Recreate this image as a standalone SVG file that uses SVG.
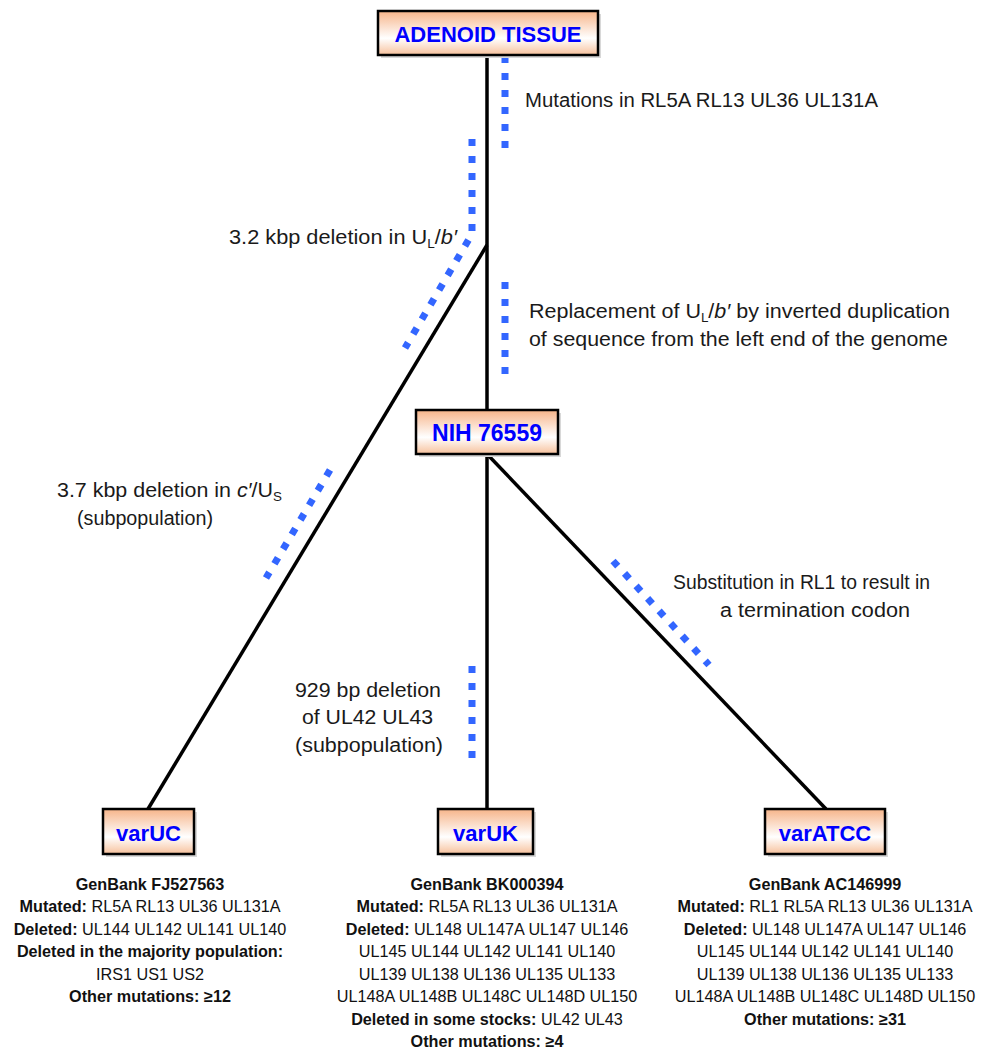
<svg xmlns="http://www.w3.org/2000/svg" width="991" height="1052" viewBox="0 0 991 1052">
<defs>
<linearGradient id="peach" x1="0" y1="0" x2="0" y2="1">
<stop offset="0" stop-color="#f6b489"/>
<stop offset="0.62" stop-color="#ffffff"/>
<stop offset="1" stop-color="#f7c19c"/>
</linearGradient>
<style>
.box{fill:url(#peach);stroke:#000;stroke-width:2.5}
.shadow{fill:#d8d8d8}
.title{font-family:"Liberation Sans",Arial,sans-serif;font-weight:bold;font-size:22px;fill:#0000ff;text-anchor:middle}
.edge{stroke:#000;stroke-width:3.5;fill:none}
.dots{stroke:#3366ff;stroke-width:7;stroke-dasharray:7 10;fill:none}
.lbl{font-family:"Liberation Sans",Arial,sans-serif;font-size:20px;fill:#1a1a1a}
.info{font-family:"Liberation Sans",Arial,sans-serif;font-size:16.2px;fill:#111;text-anchor:middle}
.b{font-weight:bold}
.sub{font-size:12.5px}
</style>
</defs>
<rect width="991" height="1052" fill="#ffffff"/>

<g id="connectors">
<line class="edge" x1="487" y1="55" x2="487" y2="410"/>
<line class="edge" x1="487" y1="245" x2="148" y2="809"/>
<line class="edge" x1="487" y1="454" x2="487" y2="809"/>
<line class="edge" x1="487" y1="454" x2="826" y2="809"/>
</g>

<g id="mutation-marks">
<line class="dots" x1="505" y1="56" x2="505" y2="148"/>
<path class="dots" d="M472,139 L472,234 L405,348"/>
<line class="dots" x1="505" y1="282" x2="505" y2="374"/>
<line class="dots" x1="330" y1="470" x2="266" y2="578"/>
<line class="dots" x1="613" y1="561" x2="709" y2="665"/>
<line class="dots" x1="472" y1="666" x2="472" y2="758"/>
</g>

<g id="labels">
<text class="lbl" x="525" y="107" textLength="353" lengthAdjust="spacingAndGlyphs">Mutations in RL5A RL13 UL36 UL131A</text>
<text class="lbl" x="229" y="244" textLength="228" lengthAdjust="spacingAndGlyphs">3.2 kbp deletion in U<tspan class="sub" dy="4">L</tspan><tspan dy="-4">/</tspan><tspan font-style="italic">b′</tspan></text>
<text class="lbl" x="529" y="318" textLength="421" lengthAdjust="spacingAndGlyphs">Replacement of U<tspan class="sub" dy="4">L</tspan><tspan dy="-4">/</tspan><tspan font-style="italic">b′</tspan> by inverted duplication</text>
<text class="lbl" x="529" y="346" textLength="419" lengthAdjust="spacingAndGlyphs">of sequence from the left end of the genome</text>
<text class="lbl" x="57" y="497" textLength="225" lengthAdjust="spacingAndGlyphs">3.7 kbp deletion in <tspan font-style="italic">c′</tspan>/U<tspan class="sub" dy="4">S</tspan></text>
<text class="lbl" x="77" y="525" textLength="136" lengthAdjust="spacingAndGlyphs">(subpopulation)</text>
<text class="lbl" x="673" y="589" textLength="257" lengthAdjust="spacingAndGlyphs">Substitution in RL1 to result in</text>
<text class="lbl" x="720" y="617" textLength="190" lengthAdjust="spacingAndGlyphs">a termination codon</text>
<text class="lbl" x="295" y="697" textLength="146" lengthAdjust="spacingAndGlyphs">929 bp deletion</text>
<text class="lbl" x="302" y="724" textLength="131" lengthAdjust="spacingAndGlyphs">of UL42 UL43</text>
<text class="lbl" x="295" y="752" textLength="148" lengthAdjust="spacingAndGlyphs">(subpopulation)</text>
</g>

<g id="node-adenoid">
<rect class="shadow" x="381" y="14" width="220" height="44"/>
<rect class="box" x="378" y="11" width="220" height="44"/>
<text class="title" x="488" y="42">ADENOID TISSUE</text>
</g>

<g id="node-nih">
<rect class="shadow" x="419" y="413" width="142" height="44"/>
<rect class="box" x="416" y="410" width="142" height="44"/>
<text class="title" x="487" y="441" style="font-size:23px">NIH 76559</text>
</g>

<g id="node-varUC">
<rect class="shadow" x="106" y="812" width="91" height="45"/>
<rect class="box" x="103" y="809" width="91" height="45"/>
<text class="title" x="148.5" y="841">varUC</text>
<text class="info" x="150" y="890"><tspan class="b">GenBank FJ527563</tspan></text>
<text class="info" x="150" y="912"><tspan class="b">Mutated:</tspan> RL5A RL13 UL36 UL131A</text>
<text class="info" x="150" y="935"><tspan class="b">Deleted:</tspan> UL144 UL142 UL141 UL140</text>
<text class="info" x="150" y="957"><tspan class="b">Deleted in the majority population:</tspan></text>
<text class="info" x="150" y="980">IRS1 US1 US2</text>
<text class="info" x="150" y="1002"><tspan class="b">Other mutations: ≥12</tspan></text>
</g>

<g id="node-varUK">
<rect class="shadow" x="441" y="812" width="95" height="45"/>
<rect class="box" x="438" y="809" width="95" height="45"/>
<text class="title" x="485.5" y="841">varUK</text>
<text class="info" x="487" y="890"><tspan class="b">GenBank BK000394</tspan></text>
<text class="info" x="487" y="912"><tspan class="b">Mutated:</tspan> RL5A RL13 UL36 UL131A</text>
<text class="info" x="487" y="935"><tspan class="b">Deleted:</tspan> UL148 UL147A UL147 UL146</text>
<text class="info" x="487" y="957">UL145 UL144 UL142 UL141 UL140</text>
<text class="info" x="487" y="980">UL139 UL138 UL136 UL135 UL133</text>
<text class="info" x="487" y="1002">UL148A UL148B UL148C UL148D UL150</text>
<text class="info" x="487" y="1025"><tspan class="b">Deleted in some stocks:</tspan> UL42 UL43</text>
<text class="info" x="487" y="1047"><tspan class="b">Other mutations: ≥4</tspan></text>
</g>

<g id="node-varATCC">
<rect class="shadow" x="768" y="812" width="120" height="45"/>
<rect class="box" x="765" y="809" width="120" height="45"/>
<text class="title" x="825" y="841">varATCC</text>
<text class="info" x="825" y="890"><tspan class="b">GenBank AC146999</tspan></text>
<text class="info" x="825" y="912"><tspan class="b">Mutated:</tspan> RL1 RL5A RL13 UL36 UL131A</text>
<text class="info" x="825" y="935"><tspan class="b">Deleted:</tspan> UL148 UL147A UL147 UL146</text>
<text class="info" x="825" y="957">UL145 UL144 UL142 UL141 UL140</text>
<text class="info" x="825" y="980">UL139 UL138 UL136 UL135 UL133</text>
<text class="info" x="825" y="1002">UL148A UL148B UL148C UL148D UL150</text>
<text class="info" x="825" y="1025"><tspan class="b">Other mutations: ≥31</tspan></text>
</g>
</svg>
